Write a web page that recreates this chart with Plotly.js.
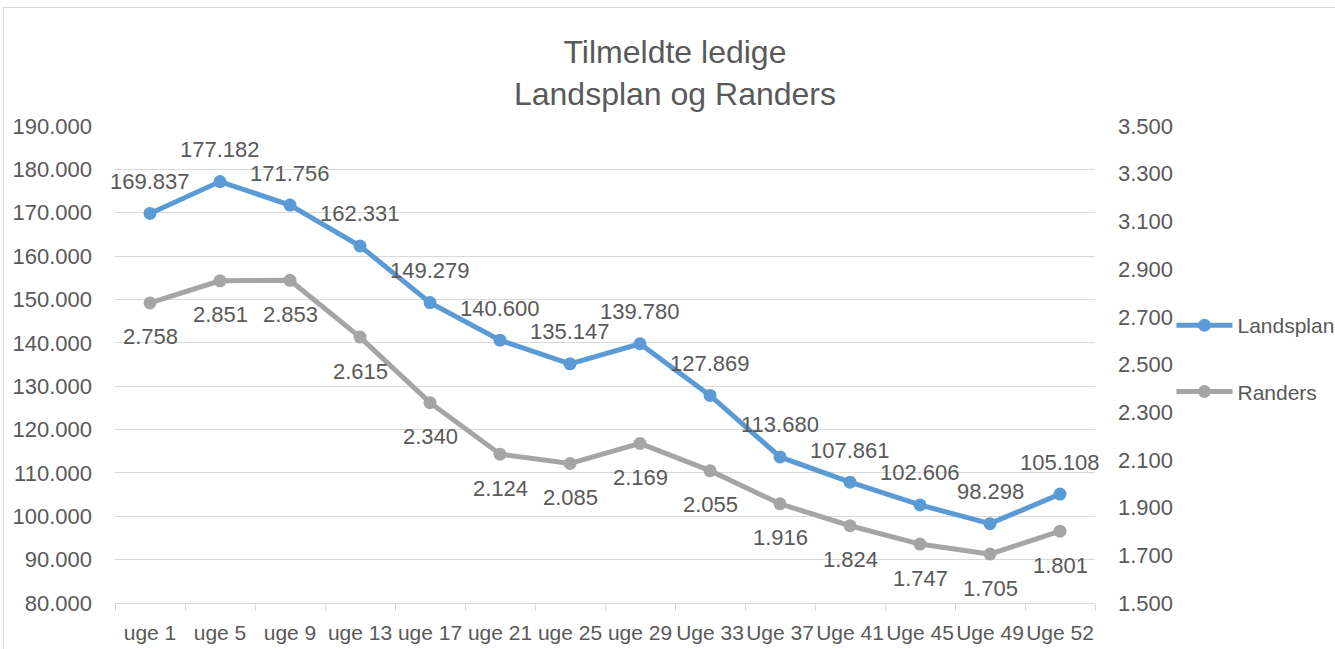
<!DOCTYPE html>
<html>
<head>
<meta charset="utf-8">
<script src="https://cdn.plot.ly/plotly-3.0.1.min.js"></script>
<style>
  html, body { margin: 0; padding: 0; background: #fff; overflow: hidden; }
  #chart { width: 1335px; height: 649px; }
  #frame { position: absolute; left: 3px; top: 7px; width: 1400px; height: 700px;
           border: 1px solid #D9D9D9; pointer-events: none; box-sizing: border-box; }
</style>
</head>
<body>
<div id="chart"></div>
<div id="frame"></div>
<script>
const categories = ['uge 1','uge 5','uge 9','uge 13','uge 17','uge 21','uge 25','uge 29','Uge 33','Uge 37','Uge 41','Uge 45','Uge 49','Uge 52'];
const landsplan = [169837,177182,171756,162331,149279,140600,135147,139780,127869,113680,107861,102606,98298,105108];
const randers = [2758,2851,2853,2615,2340,2124,2085,2169,2055,1916,1824,1747,1705,1801];

const FONT = '"Liberation Sans", Arial, sans-serif';
const TXT = '#595959';
const BLUE = '#5B9BD5';
const GRAY = '#A5A5A5';

function fmt(v) { return String(v).replace(/\B(?=(\d{3})+(?!\d))/g, '.'); }

const traces = [
  { x: categories, y: landsplan, name: 'Landsplan', type: 'scatter', mode: 'lines+markers',
    line: { color: BLUE, width: 5 }, marker: { color: BLUE, size: 13 },
    yaxis: 'y', legendgroup: 'a', hoverinfo: 'skip' },
  { x: categories, y: randers, name: 'Randers', type: 'scatter', mode: 'lines+markers',
    line: { color: GRAY, width: 5 }, marker: { color: GRAY, size: 13 },
    yaxis: 'y2', legendgroup: 'b', hoverinfo: 'skip' }
];

const annotations = [];
categories.forEach((c, i) => {
  annotations.push({ x: c, y: landsplan[i], xref: 'x', yref: 'y', text: fmt(landsplan[i]),
    showarrow: false, yshift: 32, font: { family: FONT, size: 22, color: TXT } });
  annotations.push({ x: c, y: randers[i], xref: 'x', yref: 'y2', text: fmt(randers[i]),
    showarrow: false, yshift: -34, font: { family: FONT, size: 22, color: TXT } });
});

const layout = {
  width: 1335, height: 649,
  margin: { l: 115, r: 240, t: 126, b: 46, autoexpand: false },
  paper_bgcolor: 'rgba(0,0,0,0)', plot_bgcolor: 'rgba(0,0,0,0)',
  separators: ',.',
  font: { family: FONT, size: 21, color: TXT },
  title: { text: 'Tilmeldte ledige<br>Landsplan og Randers', xref: 'container', x: 0.5056,
           yref: 'container', y: 0.903, yanchor: 'top', xanchor: 'center',
           font: { family: FONT, size: 32, color: TXT } },
  xaxis: { type: 'category', range: [-0.5, categories.length - 0.5], autorange: false,
           showgrid: false, showline: true, linecolor: '#D9D9D9', linewidth: 1,
           ticks: 'outside', tickson: 'boundaries', ticklen: 7, tickcolor: '#D9D9D9',
           tickangle: 0, automargin: false,
           tickfont: { family: FONT, size: 21, color: TXT }, ticklabelstandoff: 11,
           zeroline: false, fixedrange: true },
  yaxis: { range: [80000, 190000], dtick: 10000, tick0: 80000, tickformat: ',d', automargin: false,
           showgrid: true, gridcolor: '#D9D9D9', gridwidth: 1, zeroline: false, showline: false,
           ticks: '', ticklabelstandoff: 22, tickfont: { family: FONT, size: 22, color: TXT },
           fixedrange: true },
  yaxis2: { range: [1500, 3500], dtick: 200, tick0: 1500, tickformat: ',d', overlaying: 'y',
            side: 'right', showgrid: false, zeroline: false, showline: false, ticks: '', automargin: false,
            ticklabelstandoff: 22, tickfont: { family: FONT, size: 22, color: TXT }, fixedrange: true },
  legend: { xref: 'container', x: 0.8775, xanchor: 'left', yref: 'container', y: 0.4475, yanchor: 'middle',
            itemwidth: 56, tracegroupgap: 36, bgcolor: 'rgba(0,0,0,0)',
            font: { family: FONT, size: 21, color: TXT } },
  showlegend: true,
  annotations: annotations,
  hovermode: false
};

Plotly.newPlot('chart', traces, layout, { displayModeBar: false, staticPlot: true });
</script>
</body>
</html>
